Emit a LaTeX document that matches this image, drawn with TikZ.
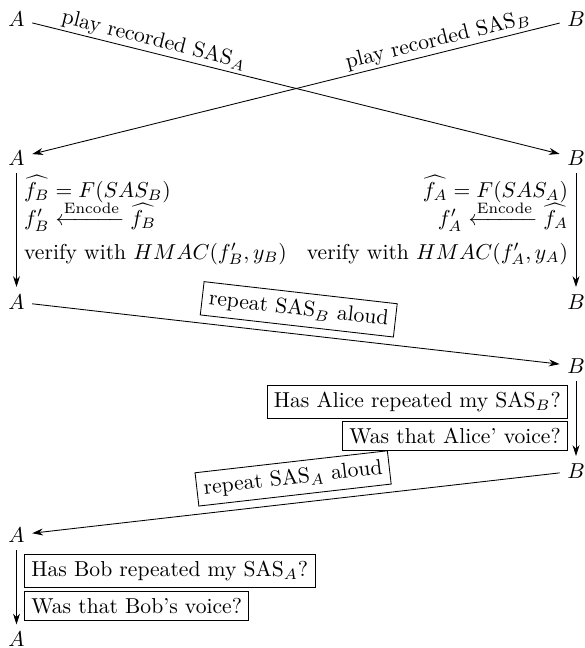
\documentclass[tikz,border=0pt]{standalone}
\usepackage{amsmath}
\usetikzlibrary{arrows.meta}

\begin{document}
\begin{tikzpicture}[x=0.463pt, y=-0.463pt,
  party/.style={inner sep=3.33pt},
  msg/.style={-{Stealth[length=5pt,width=3.2pt]}},
  flow/.style={-{Stealth[length=5pt,width=3.2pt]}},
  lbl/.style={sloped, above, inner sep=1pt},
  boxlbl/.style={sloped, above, inner sep=3.33pt},
  lefttext/.style={anchor=base west, inner sep=0pt},
  righttext/.style={anchor=base east, inner sep=0pt},
  leftq/.style={anchor=west, inner sep=0pt},
  rightq/.style={anchor=east, inner sep=0pt}]
\useasboundingbox (0,0) rectangle (584,648);

% parties along the protocol run
\node[party] (a1) at (16.5,19)  {$A$};
\node[party] (b1) at (576,19) {$B$};
\node[party] (a2) at (16.5,158) {$A$};
\node[party] (b2) at (576,158) {$B$};
\node[party] (a3) at (16.5,302) {$A$};
\node[party] (b3) at (576,302) {$B$};
\node[party] (b4) at (576,366) {$B$};
\node[party] (b5) at (576,471) {$B$};
\node[party] (a6) at (16.5,535) {$A$};
\node[party] (a7) at (16.5,639.5) {$A$};

% exchange of the recorded SAS
\draw[msg] (a1) -- node[lbl, pos=0.225] {play recorded SAS$_A$} (b2);
\draw[msg] (b1) -- node[lbl, pos=0.225] {play recorded SAS$_B$} (a2);

% local verification
\draw[flow] (a2) -- (a3);
\draw[flow] (b2) -- (b3);
\node[lefttext] (la1) at (23.7,197) {$\widehat{f_B} = F(SAS_B)$};
\node[lefttext] (la2) at (23.7,225.5) {$f'_B \xleftarrow{\text{Encode}} \widehat{f_B}$};
\node[lefttext] (la3) at (23.7,259) {verify with $HMAC(f'_B, y_B)$};
\node[righttext] (rb1) at (568.5,197) {$\widehat{f_A} = F(SAS_A)$};
\node[righttext] (rb2) at (568.5,225.5) {$f'_A \xleftarrow{\text{Encode}} \widehat{f_A}$};
\node[righttext] (rb3) at (568.5,259) {verify with $HMAC(f'_A, y_A)$};

% A repeats SAS_B, B checks
\draw[msg] (a3) -- node[boxlbl] {\fbox{repeat SAS$_B$ aloud}} (b4);
\draw[flow] (b4) -- (b5);
\node[rightq] (qb1) at (568.5,402) {\fbox{Has Alice repeated my SAS$_B$?}};
\node[rightq] (qb2) at (568.5,436) {\fbox{Was that Alice' voice?}};

% B repeats SAS_A, A checks
\draw[msg] (b5) -- node[boxlbl] {\fbox{repeat SAS$_A$ aloud}} (a6);
\draw[flow] (a6) -- (a7);
\node[leftq] (qa1) at (23.7,571) {\fbox{Has Bob repeated my SAS$_A$?}};
\node[leftq] (qa2) at (23.7,606) {\fbox{Was that Bob's voice?}};
\end{tikzpicture}
\end{document}
